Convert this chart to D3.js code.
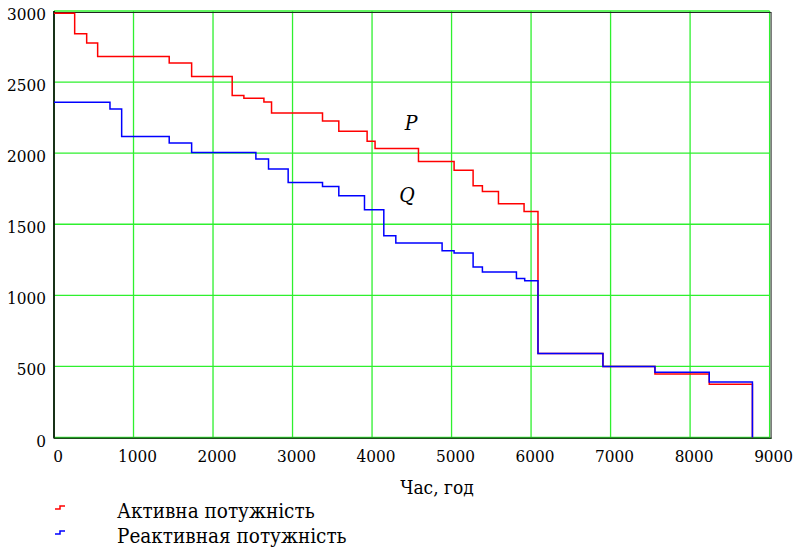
<!DOCTYPE html>
<html>
<head>
<meta charset="utf-8">
<script src="https://cdn.jsdelivr.net/npm/d3@7"></script>
<style>
  html, body { margin: 0; padding: 0; background: #fff; }
  svg { display: block; }
  svg text { font-family: 'DejaVu Serif', serif; font-stretch: condensed; fill: #000; }
</style>
</head>
<body>
<svg id="chart" width="801" height="550"></svg>
<script>
// ---- data ----
// Active power P: step start hours (last entry = end of year) and step values
const pHours  = [0, 260, 411, 549, 1449, 1731, 2241, 2388, 2640, 2736, 3377, 3582, 3938, 4038, 4584, 5032, 5271, 5388, 5590, 5912, 6087, 6904, 7558, 8241, 8784];
const pValues = [2985, 2840, 2775, 2680, 2635, 2540, 2405, 2386, 2360, 2283, 2227, 2154, 2083, 2032, 1942, 1879, 1771, 1731, 1644, 1590, 590, 499, 447, 375];
// Reactive power Q
const qHours  = [0, 704, 851, 1449, 1731, 2539, 2698, 2945, 3377, 3582, 3905, 4148, 4299, 4881, 5032, 5271, 5388, 5816, 5920, 6087, 6904, 7558, 8241, 8784];
const qValues = [2358, 2311, 2118, 2072, 2005, 1959, 1889, 1794, 1766, 1701, 1602, 1419, 1368, 1313, 1297, 1200, 1165, 1118, 1102, 590, 499, 459, 391];

const xTicks = [0, 1000, 2000, 3000, 4000, 5000, 6000, 7000, 8000, 9000];
const yTicks = [0, 500, 1000, 1500, 2000, 2500, 3000];
const xTitle = "Час, год";
const seriesNames = ["Активна потужність", "Реактивная потужність"];
const curveLabels = ["P", "Q"];

const svg = d3.select("#chart");
const x = d3.scaleLinear().domain([0, 9000]).range([54, 769.6]);
const y = d3.scaleLinear().domain([0, 3000]).range([437.5, 11]);

// grid
const grid = svg.append("g");
grid.selectAll("line.v").data(xTicks).join("line")
  .attr("x1", d => x(d)).attr("x2", d => x(d))
  .attr("y1", y(0)).attr("y2", y(3000))
  .attr("stroke", "#2ef02e").attr("stroke-width", 1.3);
grid.selectAll("line.h").data(yTicks).join("line")
  .attr("x1", x(0)).attr("x2", x(9000))
  .attr("y1", d => y(d)).attr("y2", d => y(d))
  .attr("stroke", "#2ef02e").attr("stroke-width", 1.3);

// frame
svg.append("line").attr("x1", x(0)).attr("x2", x(9000) + 1.5).attr("y1", y(3000) + 1.5).attr("y2", y(3000) + 1.5)
  .attr("stroke", "#222").attr("stroke-width", 1);
svg.append("line").attr("x1", x(9000) + 1.5).attr("x2", x(9000) + 1.5).attr("y1", y(3000) + 1).attr("y2", y(0) + 1)
  .attr("stroke", "#444").attr("stroke-width", 1.2);
svg.append("line").attr("x1", x(0)).attr("x2", x(0)).attr("y1", y(3000)).attr("y2", y(0) + 1)
  .attr("stroke", "#000").attr("stroke-width", 1.6);
svg.append("line").attr("x1", x(0)).attr("x2", x(9000) + 2).attr("y1", y(0) + 0.8).attr("y2", y(0) + 0.8)
  .attr("stroke", "#1c4a1c").attr("stroke-width", 1.6);

// step series
function stepPoints(hours, values) {
  const pts = values.map((v, i) => [hours[i], v]);
  const end = hours[hours.length - 1];
  pts.push([end, values[values.length - 1]]);
  pts.push([end, 0]);
  return pts;
}
const line = d3.line().x(d => x(d[0])).y(d => y(d[1])).curve(d3.curveStepAfter);

svg.append("path").datum(stepPoints(pHours, pValues))
  .attr("d", line).attr("fill", "none").attr("stroke", "#ff0000").attr("stroke-width", 1.5);
svg.append("path").datum(stepPoints(qHours, qValues))
  .attr("d", line).attr("fill", "none").attr("stroke", "#0000ff").attr("stroke-width", 1.5);

// tick labels
svg.append("g").selectAll("text").data(xTicks).join("text")
  .attr("x", d => x(d) + 4).attr("y", 462)
  .attr("text-anchor", "middle").attr("font-size", 17)
  .text(d => d);
svg.append("g").selectAll("text").data(yTicks).join("text")
  .attr("x", 46).attr("y", d => y(d) + 9)
  .attr("text-anchor", "end").attr("font-size", 17)
  .text(d => d);

// axis title
svg.append("text").attr("x", 437).attr("y", 494).attr("text-anchor", "middle")
  .attr("font-size", 19).text(xTitle);

// curve labels
svg.append("text").attr("x", 411).attr("y", 130).attr("text-anchor", "middle")
  .attr("font-size", 21).attr("font-style", "italic").text(curveLabels[0]);
svg.append("text").attr("x", 407).attr("y", 202).attr("text-anchor", "middle")
  .attr("font-size", 21).attr("font-style", "italic").text(curveLabels[1]);

// legend
const legColors = ["#ff0000", "#0000ff"];
seriesNames.forEach((name, i) => {
  const yy = 509 + i * 25;
  svg.append("path")
    .attr("d", `M55,${yy}H60V${yy - 3}H65`)
    .attr("fill", "none").attr("stroke", legColors[i]).attr("stroke-width", 1.5);
  svg.append("text").attr("x", 117).attr("y", 518 + i * 24.5)
    .attr("font-size", 20.5).text(name);
});
</script>
</body>
</html>
